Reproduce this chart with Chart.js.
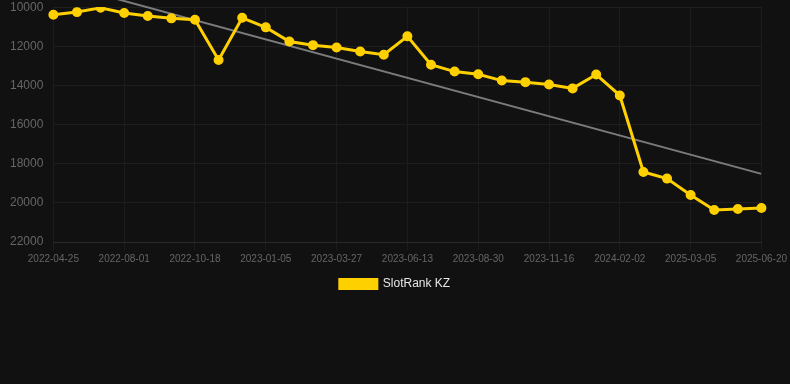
<!DOCTYPE html>
<html>
<head>
<meta charset="utf-8">
<script src="https://cdn.jsdelivr.net/npm/chart.js@4"></script>
<style>
    body { margin: 0; background: #111111; }
    #wrap { width: 790px; height: 300px; }
</style>
</head>
<body>
<div id="wrap"><canvas id="rank-chart"></canvas></div>
<script>
// Dates of the samples (every third one is shown on the axis)
const dates = [
    '2022-04-25', '2022-05-28', '2022-06-29', '2022-08-01', '2022-08-27', '2022-09-22',
    '2022-10-18', '2022-11-13', '2022-12-10', '2023-01-05', '2023-02-01', '2023-02-28',
    '2023-03-27', '2023-04-22', '2023-05-18', '2023-06-13', '2023-07-09', '2023-08-04',
    '2023-08-30', '2023-09-25', '2023-10-21', '2023-11-16', '2023-12-12', '2024-01-07',
    '2024-02-02', '2024-06-01', '2024-10-01', '2025-03-05', '2025-04-10', '2025-05-15',
    '2025-06-20'
];

// Rank values
const rankKZ = [
    10390, 10250, 10030, 10300, 10450, 10570, 10640, 12700, 10540, 11030, 11750, 11940,
    12060, 12260, 12430, 11490, 12940, 13290, 13430, 13750, 13830, 13950, 14150, 13440,
    14510, 18420, 18760, 19600, 20360, 20310, 20260
];

// Trend line end points (first and last sample)
const trendStart = 8700;
const trendEnd = 18520;
const trend = dates.map((_, i) => i === 0 ? trendStart : (i === dates.length - 1 ? trendEnd : null));

const yTicks = [10000, 12000, 14000, 16000, 18000, 20000, 22000];

Chart.defaults.font.family = 'Arial, "Liberation Sans", sans-serif';

const ctx = document.getElementById('rank-chart').getContext('2d');
new Chart(ctx, {
    type: 'line',
    data: {
        labels: dates,
        datasets: [{
            label: 'SlotRank KZ',
            data: rankKZ,
            borderColor: '#ffd000',
            backgroundColor: '#ffd000',
            borderWidth: 3,
            pointRadius: 4,
            pointBorderWidth: 2,
            pointBackgroundColor: '#ffd000',
            pointBorderColor: '#ffd000',
            tension: 0
        }, {
            label: 'trend',
            data: trend,
            borderColor: 'rgba(150, 150, 150, 0.8)',
            borderWidth: 2,
            pointRadius: 0,
            spanGaps: true,
            tension: 0,
            clip: { left: 0, top: 8, right: 0, bottom: 0 }
        }]
    },
    options: {
        responsive: true,
        maintainAspectRatio: false,
        animation: false,
        layout: { autoPadding: false, padding: 0 },
        plugins: {
            legend: {
                position: 'bottom',
                labels: {
                    color: '#e6e6e6',
                    boxWidth: 37,
                    boxHeight: 9,
                    font: { size: 12 },
                    filter: item => item.text !== 'trend'
                }
            },
            tooltip: { enabled: false }
        },
        scales: {
            x: {
                grid: {
                    color: c => c.index % 3 === 0 ? '#1c1c1c' : 'transparent',
                    tickLength: 8
                },
                border: { color: '#2a2a2a' },
                ticks: {
                    color: '#666666',
                    font: { size: 10 },
                    autoSkip: false,
                    maxRotation: 0,
                    callback: function (value, index) {
                        return index % 3 === 0 ? this.getLabelForValue(value) : '';
                    }
                }
            },
            y: {
                reverse: true,
                min: 10000,
                max: 22000,
                afterBuildTicks: scale => { scale.ticks = yTicks.map(v => ({ value: v })); },
                afterFit: scale => { scale.width += 10; },
                grid: { color: '#1e1e1e', tickLength: 10, tickColor: 'transparent' },
                border: { display: false },
                ticks: {
                    color: '#666666',
                    font: { size: 12 },
                    padding: 0,
                    callback: v => String(v)
                }
            }
        }
    }
});
</script>
</body>
</html>
